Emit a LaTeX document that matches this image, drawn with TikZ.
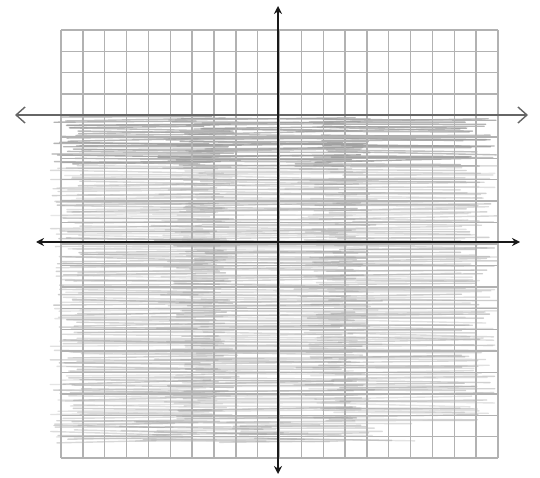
\documentclass[tikz,border=0pt]{standalone}
\usetikzlibrary{arrows.meta}
\begin{document}
\begin{tikzpicture}[x=1pt,y=-1pt,
  gridline/.style={draw=gray!60,line width=1.4pt},
  axis/.style={draw=black!90,line width=2.6pt,{Stealth[length=8pt,width=8pt]}-{Stealth[length=8pt,width=8pt]}},
  boundary/.style={draw=gray!80!black,line width=1.6pt,{Straight Barb[length=9pt,width=16pt,line width=1.4pt]}-{Straight Barb[length=9pt,width=16pt,line width=1.4pt]}},
  scribble/.style={draw=gray!75,line width=1.4pt,line cap=round}]
\fill[white] (0,0) rectangle (540,478);
\useasboundingbox (0,0) rectangle (540,478);
% shading scribbles (below the boundary line)
\pgfmathsetseed{11}
\foreach \i in {0,...,175}{
  \pgfmathsetmacro{\yc}{118+\i*1.85}
  \pgfmathsetmacro{\xe}{\yc>420 ? 330+rnd*90 : 460+rnd*38}
  \pgfmathsetmacro{\xs}{50+rnd*32}
  \pgfmathsetmacro{\op}{\yc<165 ? 0.6+0.3*rnd : 0.25+0.3*rnd}
  \foreach \s in {0,1,2}{
    \pgfmathsetmacro{\xa}{\xs+(\xe-\xs)*(\s/3)-rnd*40}
    \pgfmathsetmacro{\xb}{\xs+(\xe-\xs)*((\s+1)/3)+rnd*30}
    \pgfmathsetmacro{\xa}{max(\xa,\xs)}
    \pgfmathsetmacro{\xb}{min(\xb,\xe)}
    \pgfmathsetmacro{\ya}{\yc+rand*2}
    \pgfmathsetmacro{\yb}{\yc+rand*2.5}
    \draw[scribble,opacity=\op] (\xa,\ya) -- (\xb,\yb);
  }
}
% grid
\foreach \i in {0,...,20}{
  \draw[gridline] (61+\i*21.85,30) -- (61+\i*21.85,458);
  \draw[gridline] (61,30+\i*21.4) -- (498,30+\i*21.4);
}
% boundary line y = 6
\coordinate (bl) at (15,115);
\coordinate (br) at (528,115);
\draw[boundary] (bl) -- (br);
% axes
\coordinate (xl) at (36,242);
\coordinate (xr) at (520,242);
\coordinate (yt) at (278,6);
\coordinate (yb) at (278,474);
\draw[axis] (xl) -- (xr);
\draw[axis] (yt) -- (yb);
\end{tikzpicture}
\end{document}
